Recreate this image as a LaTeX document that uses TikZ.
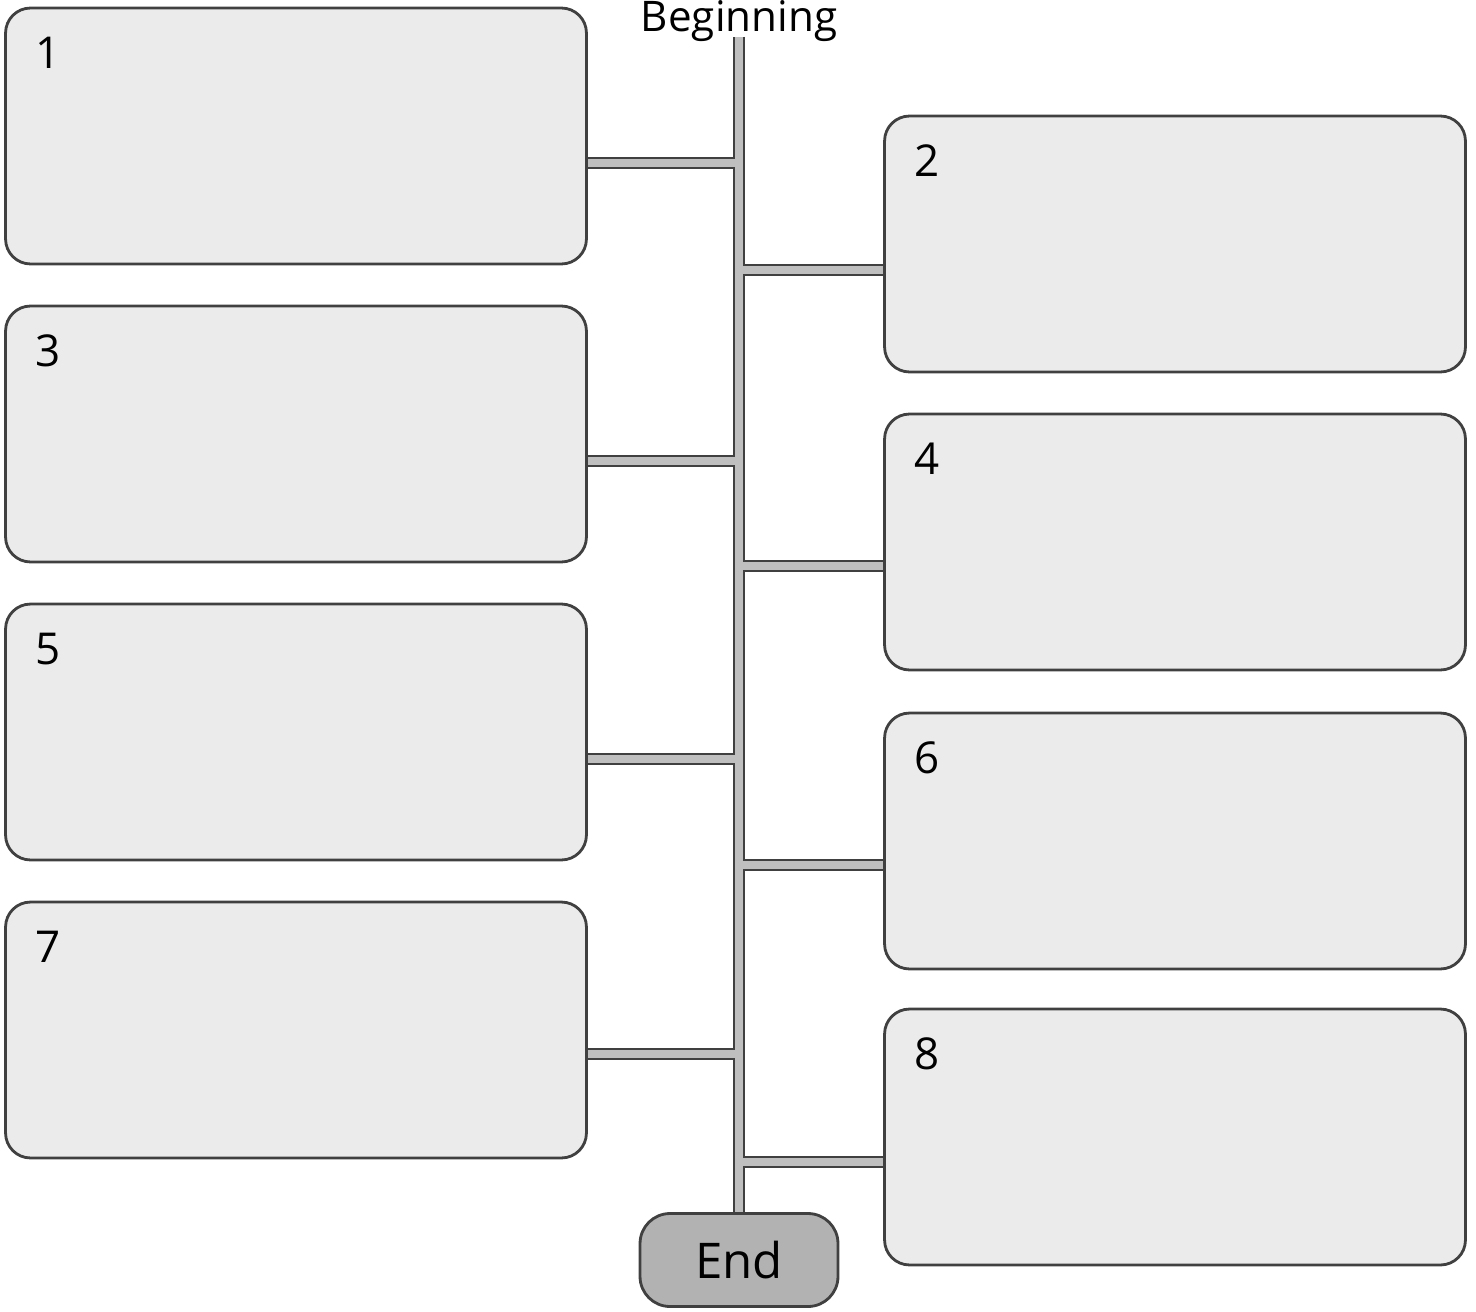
\documentclass[tikz,border=0pt]{standalone}
\usepackage{fontspec}
\setmainfont{Open Sans}
\usetikzlibrary{positioning}
\tikzset{
  eventbox/.style={draw=black!75, line width=1.6pt, fill=black!8, rounded corners=0.5cm,
    minimum width=11.62cm, minimum height=5.12cm, inner sep=0pt},
  endbox/.style={draw=black!75, line width=1.6pt, fill=black!30, rounded corners=0.6cm,
    minimum width=3.96cm, minimum height=1.86cm, font=\fontsize{28}{30}\selectfont},
  num/.style={inner sep=0pt, anchor=north west, font=\fontsize{25}{28}\selectfont},
  baredge/.style={draw=black!75, line width=7pt},
  barfill/.style={draw=black!25, line width=4.2pt},
}
\begin{document}
\begin{tikzpicture}[x=0.02cm, y=-0.02cm]
  \useasboundingbox (0,0) rectangle (1476,1311);
  % start and end of the line
  \node [anchor=base, inner sep=0pt, font=\fontsize{24}{26}\selectfont] (start) at (739,32) {Beginning};
  \coordinate (top) at (739,37);
  \node [endbox] (finish) at (739,1260) {End};
  % event boxes
  \foreach \i/\x/\y/\c in {1/296/136/163, 2/1175/244/270, 3/296/434/461, 4/1175/542/566,
                           5/296/732/759, 6/1175/841/865, 7/296/1030/1054, 8/1175/1137/1162} {
    \node [eventbox] (b\i) at (\x,\y) {};
    \node [num, below right=0.6cm and 0.62cm of b\i.north west] (n\i) {\i};
    \coordinate (j\i) at (739,\c);
  }
  % the bars: outline first, then fill
  \foreach \s in {baredge, barfill} {
    \draw [\s] (top) -- (finish.north);
    \foreach \i/\a in {1/east, 2/west, 3/east, 4/west, 5/east, 6/west, 7/east, 8/west}
      \draw [\s] (b\i.\a |- j\i) -- (j\i);
  }
\end{tikzpicture}
\end{document}
